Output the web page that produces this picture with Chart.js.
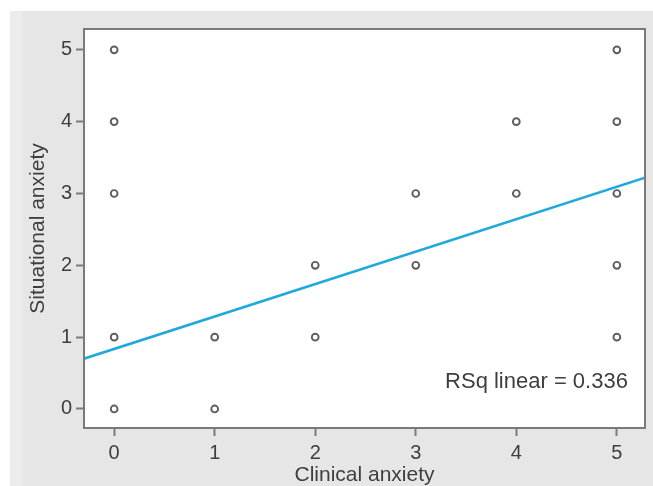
<!DOCTYPE html>
<html>
<head>
<meta charset="utf-8">
<script src="https://cdn.jsdelivr.net/npm/chart.js@4/dist/chart.umd.min.js"></script>
<style>
  html, body { margin: 0; padding: 0; background: #ffffff; }
  #wrap { position: relative; width: 653px; height: 486px; }
  #bg { position: absolute; left: 10px; top: 11px; right: 0; bottom: 0;
        background: linear-gradient(to right, #ececec 0px, #ececec 12px, #e6e6e6 13px, #e6e6e6 100%); }
  canvas { position: absolute; left: 0; top: 0; }
</style>
</head>
<body>
<div id="wrap">
  <div id="bg"></div>
  <canvas id="c" width="653" height="486"></canvas>
</div>
<script>
// Data
const clinicalAnxiety   = [0, 0, 0, 0, 0, 1, 1, 2, 2, 3, 3, 4, 4, 5, 5, 5, 5, 5];
const situationalAnxiety = [5, 4, 3, 1, 0, 1, 0, 2, 1, 3, 2, 4, 3, 5, 4, 3, 2, 1];
const fitLineX = [-0.30, 5.28];
const fitLineY = [0.70, 3.22];
const xTicks = [0, 1, 2, 3, 4, 5];
const yTicks = [0, 1, 2, 3, 4, 5];
const xTitle = 'Clinical anxiety';
const yTitle = 'Situational anxiety';
const rsqLabel = 'RSq linear = 0.336';

const scatterData = clinicalAnxiety.map((x, i) => ({ x: x, y: situationalAnxiety[i] }));
const lineData = fitLineX.map((x, i) => ({ x: x, y: fitLineY[i] }));

const textColor = '#3e3e3e';
const axisColor = '#7a7a7a';
const FONT = '"Liberation Sans", Arial, sans-serif';

const framePlugin = {
  id: 'frame',
  afterDraw(chart) {
    const { ctx, chartArea: a } = chart;
    ctx.save();
    ctx.strokeStyle = axisColor;
    ctx.lineWidth = 2;
    ctx.strokeRect(a.left, a.top, a.right - a.left, a.bottom - a.top);
    ctx.fillStyle = textColor;
    ctx.font = '22px ' + FONT;
    ctx.textAlign = 'right';
    ctx.textBaseline = 'middle';
    const xs = chart.scales.x, ys = chart.scales.y;
    ctx.fillText(rsqLabel, xs.getPixelForValue(5.11), ys.getPixelForValue(0.38));
    ctx.restore();
  }
};

const whiteAreaPlugin = {
  id: 'whiteArea',
  beforeDatasetsDraw(chart) {
    const { ctx, chartArea: a } = chart;
    ctx.save();
    ctx.fillStyle = '#ffffff';
    ctx.fillRect(a.left, a.top, a.right - a.left, a.bottom - a.top);
    ctx.restore();
  }
};

new Chart(document.getElementById('c'), {
  type: 'scatter',
  data: {
    datasets: [
      {
        type: 'scatter',
        data: scatterData,
        pointStyle: 'circle',
        pointRadius: 3.4,
        pointBorderWidth: 1.9,
        pointBorderColor: '#5e5e5e',
        pointBackgroundColor: 'rgba(255,255,255,0)',
        order: 2
      },
      {
        type: 'line',
        data: lineData,
        borderColor: '#22a9dc',
        borderWidth: 2.5,
        pointRadius: 0,
        fill: false,
        order: 1
      }
    ]
  },
  plugins: [whiteAreaPlugin, framePlugin],
  options: {
    responsive: false,
    animation: false,
    devicePixelRatio: 1,
    layout: { padding: { left: 0, top: 29, right: 8, bottom: 0 } },
    plugins: { legend: { display: false }, tooltip: { enabled: false } },
    scales: {
      x: {
        type: 'linear',
        min: -0.30,
        max: 5.28,
        afterFit(scale) { scale.height = 58; },
        afterBuildTicks(scale) { scale.ticks = xTicks.map(v => ({ value: v })); },
        grid: { drawOnChartArea: false, drawTicks: true, tickLength: 8, tickColor: axisColor, tickWidth: 2 },
        border: { display: false },
        ticks: { color: textColor, font: { size: 20, family: FONT }, padding: 5, maxRotation: 0 },
        title: { display: true, text: xTitle, color: textColor,
                 font: { size: 21, family: FONT, lineHeight: 1.0 }, padding: { top: 0, bottom: 0 } }
      },
      y: {
        type: 'linear',
        min: -0.265,
        max: 5.29,
        afterFit(scale) { scale.width = 84; },
        afterBuildTicks(scale) { scale.ticks = yTicks.map(v => ({ value: v })); },
        grid: { drawOnChartArea: false, drawTicks: true, tickLength: 8, tickColor: axisColor, tickWidth: 2 },
        border: { display: false },
        ticks: { color: textColor, font: { size: 20, family: FONT }, padding: 4 },
        title: { display: true, text: yTitle, color: textColor,
                 font: { size: 21, family: FONT, lineHeight: 1.0 }, padding: { top: 28, bottom: 0 } }
      }
    }
  }
});
</script>
</body>
</html>
